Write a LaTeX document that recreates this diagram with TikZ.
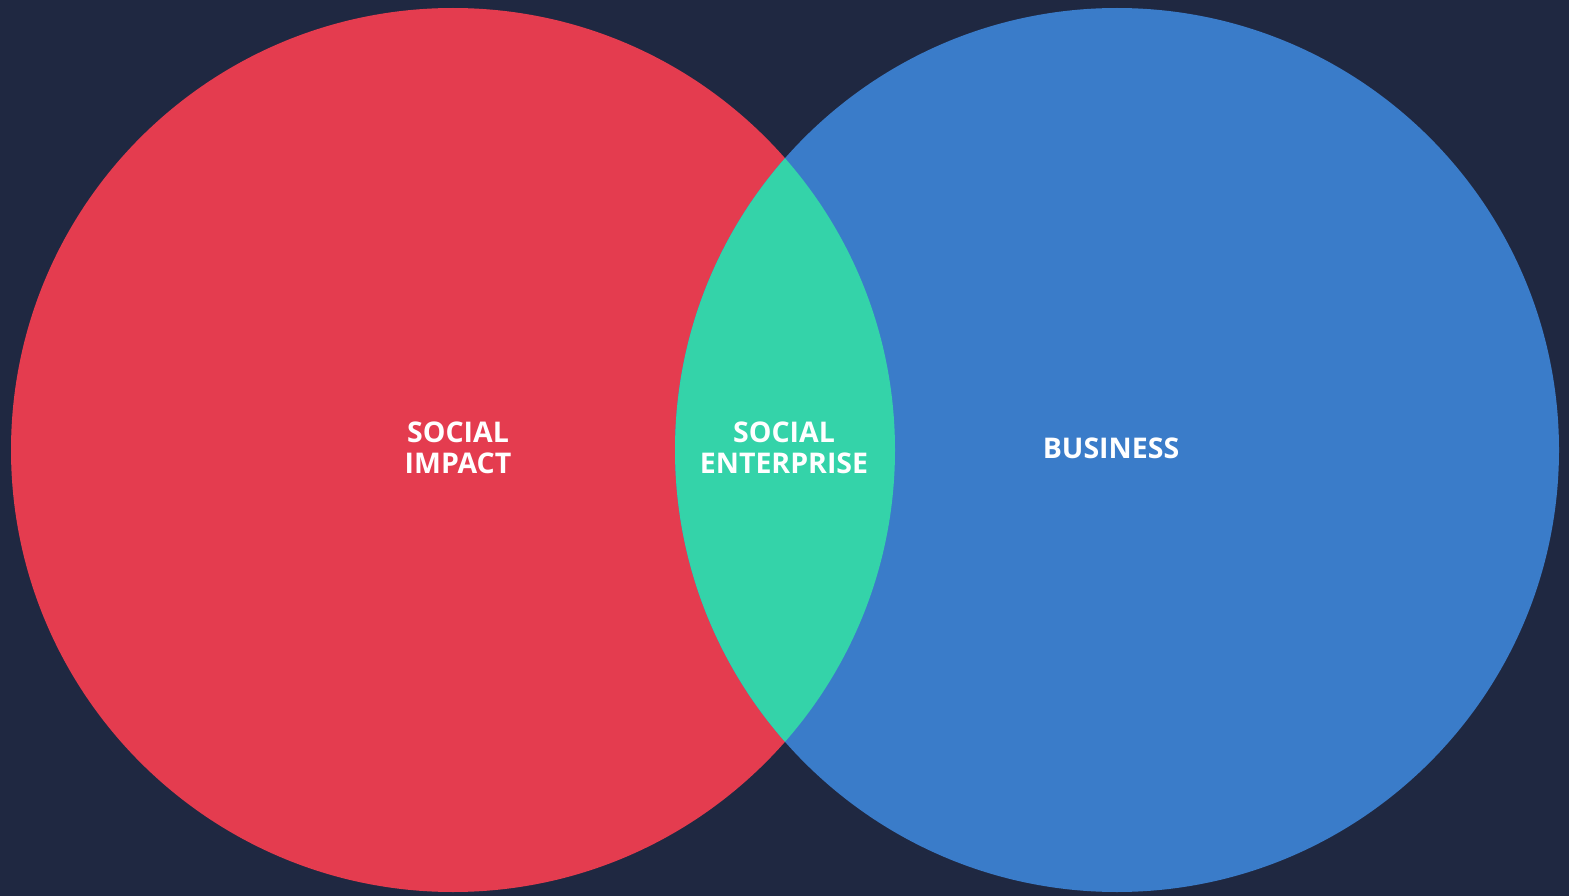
\documentclass[tikz,border=0pt]{standalone}
\usepackage{fontspec}
\setmainfont{Open Sans}
\definecolor{bg}{HTML}{1F2841}
\definecolor{cred}{HTML}{E43C4F}
\definecolor{cblue}{HTML}{3A7CC9}
\definecolor{cgreen}{HTML}{34D3A9}
\tikzset{lbl/.style={text=white, font=\fontsize{28.5}{31}\selectfont\bfseries, align=center, inner sep=0pt}}
\begin{document}
\begin{tikzpicture}[x=1pt,y=-1pt]
\fill[bg] (0,0) rectangle (1569,896);
\useasboundingbox (0,0) rectangle (1569,896);
\fill[cred] (453,450) circle[radius=442];
\fill[cblue] (1117,450) circle[radius=442];
\begin{scope}
\clip (453,450) circle[radius=442];
\fill[cgreen] (1117,450) circle[radius=442];
\end{scope}
\node[lbl] (si) at (458,448) {SOCIAL\\IMPACT};
\node[lbl] (se) at (784,448) {SOCIAL\\ENTERPRISE};
\node[lbl] (bu) at (1111,448) {BUSINESS};
\end{tikzpicture}
\end{document}
